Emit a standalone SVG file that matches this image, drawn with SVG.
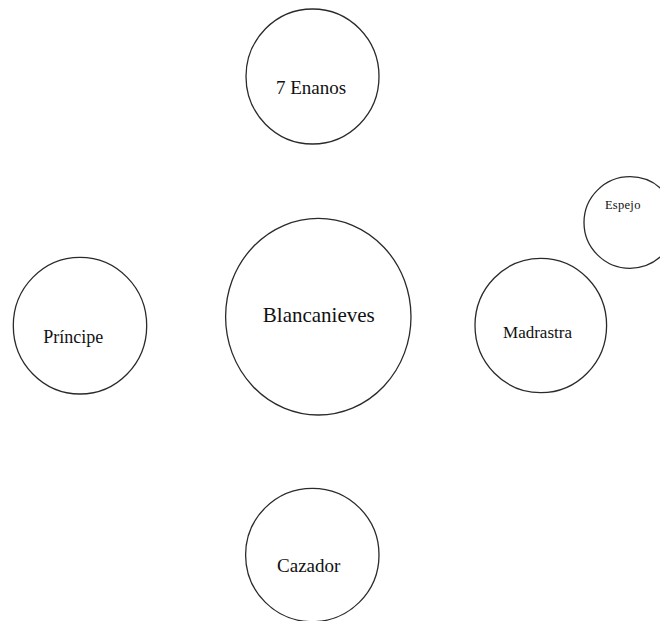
<svg xmlns="http://www.w3.org/2000/svg" width="660" height="621" viewBox="0 0 660 621">
<style>
.c{fill:#fff;stroke:#2a2a2a;stroke-width:1.3}
.t{font-family:"Liberation Serif","Times New Roman",serif;fill:#111;text-anchor:middle}
</style>
<rect width="660" height="621" fill="#fff"/>
<g id="connectors"></g>
<g id="enanos"><ellipse class="c" cx="312.5" cy="76.5" rx="66.5" ry="67.5"/><text class="t" x="311" y="94" font-size="19">7 Enanos</text></g>
<g id="blancanieves"><ellipse class="c" cx="318.3" cy="316.7" rx="92.7" ry="98.3"/><text class="t" x="318.8" y="321.7" font-size="21">Blancanieves</text></g>
<g id="principe"><ellipse class="c" cx="80" cy="325.7" rx="66.7" ry="68.3"/><text class="t" x="73.3" y="343.3" font-size="18">Príncipe</text></g>
<g id="madrastra"><ellipse class="c" cx="540.8" cy="325.5" rx="65.8" ry="67.2"/><text class="t" x="537.5" y="338.3" font-size="17">Madrastra</text></g>
<g id="espejo"><ellipse class="c" cx="630" cy="222.5" rx="46" ry="45.8"/><text class="t" x="622.8" y="209" font-size="12.5" letter-spacing="0.3">Espejo</text></g>
<g id="cazador"><ellipse class="c" cx="312.3" cy="555" rx="66.7" ry="66.7"/><text class="t" x="308.7" y="572.3" font-size="19">Cazador</text></g>
</svg>
